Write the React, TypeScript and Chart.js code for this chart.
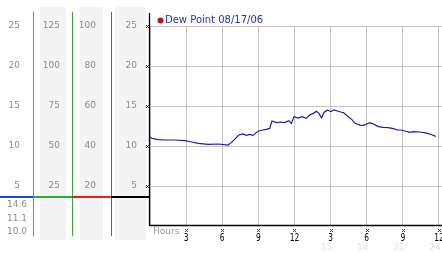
import React, { useEffect, useRef } from "react";
import { Chart, registerables } from "chart.js";

Chart.register(...registerables);

// Dew point readings: [hour of day, value]
const hours = [0, 0.14, 0.69, 1.25, 2.08, 2.91, 3.46, 4.01, 4.84, 5.67, 6.48, 6.75, 7.03, 7.37, 7.72, 8.0, 8.28, 8.55, 8.75, 9.03, 9.39, 9.66, 9.94, 10.13, 10.49, 10.86, 11.19, 11.52, 11.74, 11.96, 12.29, 12.62, 12.98, 13.26, 13.56, 13.83, 14.04, 14.24, 14.45, 14.73, 15.01, 15.28, 15.56, 15.84, 16.06, 16.39, 16.75, 17.03, 17.44, 17.72, 18.0, 18.27, 18.6, 18.96, 19.38, 19.79, 20.21, 20.54, 20.82, 21.18, 21.54, 21.87, 22.43, 22.98, 23.4, 23.73];
const dewPoint = [11.17, 10.96, 10.8, 10.75, 10.75, 10.67, 10.5, 10.33, 10.2, 10.25, 10.12, 10.42, 10.83, 11.37, 11.5, 11.33, 11.46, 11.33, 11.58, 11.87, 12.0, 12.08, 12.2, 13.12, 12.92, 13.0, 12.92, 13.17, 12.83, 13.67, 13.5, 13.67, 13.46, 13.87, 14.08, 14.35, 14.04, 13.5, 14.2, 14.5, 14.29, 14.5, 14.37, 14.25, 14.17, 13.75, 13.33, 12.83, 12.62, 12.58, 12.75, 12.92, 12.71, 12.42, 12.33, 12.29, 12.17, 12.0, 12.0, 11.87, 11.71, 11.8, 11.75, 11.6, 11.4, 11.2];

const seriesLabel = "Dew Point 08/17/06";
const hourTicks = [0, 3, 6, 9, 12, 15, 18, 21, 24];
const hourLabels = ["3", "6", "9", "12", "3", "6", "9", "12"];
const hour24Labels = ["15", "18", "21", "24"];
const yTicks = [5, 10, 15, 20, 25];
const col1Labels = ["5", "10", "15", "20", "25"];
const col2Labels = ["25", "50", "75", "100", "125"];
const col3Labels = ["20", "40", "60", "80", "100"];
const col4Labels = ["5", "10", "15", "20", "25"];
const statLabels = ["14.6", "11.1", "10.0"];

function xMark(ctx: CanvasRenderingContext2D, cx: number, cy: number, color: string) {
  ctx.fillStyle = color;
  const px = [[-1, -1], [1, -1], [0, 0], [-1, 1], [1, 1]];
  for (const [dx, dy] of px) ctx.fillRect(Math.round(cx) + dx, Math.round(cy) + dy, 1, 1);
}

export default function App() {
  const ref = useRef<HTMLCanvasElement>(null);

  useEffect(() => {
    document.body.style.margin = "0";
    const canvas = ref.current!;
    const decor = {
      id: "decor",
      beforeDraw(chart: any) {
        const ctx = chart.ctx as CanvasRenderingContext2D;
        const ys = chart.scales.y;
        ctx.save();
        ctx.fillStyle = "#ffffff";
        ctx.fillRect(0, 0, chart.width, chart.height);
        // gray panels
        ctx.fillStyle = "#f4f4f4";
        ctx.fillRect(40, 7, 26, 233);
        ctx.fillRect(80, 7, 23, 233);
        ctx.fillRect(115, 7, 31, 233);
        // vertical coloured lines
        const vl: [number, string][] = [[33.5, "#2f9fd8"], [72.5, "#33aa33"], [111.5, "#cc3030"]];
        ctx.lineWidth = 1;
        for (const [x, c] of vl) {
          ctx.strokeStyle = c;
          ctx.beginPath();
          ctx.moveTo(x, 12);
          ctx.lineTo(x, 236);
          ctx.stroke();
        }
        // column labels
        ctx.font = "9px 'DejaVu Sans'";
        ctx.fillStyle = "#8c8c8c";
        ctx.textBaseline = "middle";
        ctx.textAlign = "right";
        yTicks.forEach((v, i) => {
          const y = ys.getPixelForValue(v);
          ctx.fillText(col1Labels[i], 20, y);
          ctx.fillText(col2Labels[i], 60, y);
          ctx.fillText(col3Labels[i], 96, y);
          ctx.fillText(col4Labels[i], 137, y);
        });
        // horizontal coloured line
        const hy = 197;
        const segs: [number, number, string][] = [[0, 33, "#1446e6"], [33, 72, "#22b422"], [72, 111, "#e82020"], [111, 150, "#000000"]];
        ctx.lineWidth = 2;
        for (const [a, b, c] of segs) {
          ctx.strokeStyle = c;
          ctx.beginPath();
          ctx.moveTo(a, hy);
          ctx.lineTo(b, hy);
          ctx.stroke();
        }
        // stats
        ctx.textAlign = "left";
        ctx.fillStyle = "#8c8c8c";
        const sy = [205, 218.5, 232];
        statLabels.forEach((s, i) => ctx.fillText(s, 7, sy[i]));
        ctx.restore();
      },
      afterDraw(chart: any) {
        const ctx = chart.ctx as CanvasRenderingContext2D;
        const xs = chart.scales.x;
        const ys = chart.scales.y;
        const area = chart.chartArea;
        ctx.save();
        // axes
        ctx.strokeStyle = "#000";
        ctx.lineWidth = 1.3;
        ctx.beginPath();
        ctx.moveTo(149.5, 13);
        ctx.lineTo(149.5, area.bottom - 0.5);
        ctx.lineTo(442, area.bottom - 0.5);
        ctx.stroke();
        // y tick marks
        yTicks.forEach((v) => xMark(ctx, 147, ys.getPixelForValue(v), "#444"));
        // x labels
        ctx.font = "9px 'DejaVu Sans'";
        ctx.textBaseline = "middle";
        ctx.fillStyle = "#999";
        ctx.textAlign = "left";
        ctx.fillText("Hours", 153, 232);
        hourLabels.forEach((lab, i) => {
          const x = xs.getPixelForValue(hourTicks[i + 1]);
          xMark(ctx, x, 230, "#444");
          ctx.save();
          ctx.translate(x, 238);
          ctx.scale(0.75, 1);
          ctx.fillStyle = "#000";
          ctx.textAlign = "center";
          ctx.font = "10px 'DejaVu Sans'";
          ctx.fillText(lab, 0, 0);
          ctx.restore();
        });
        ctx.fillStyle = "#e2e2e2";
        ctx.textAlign = "center";
        hour24Labels.forEach((lab, i) => {
          const x = xs.getPixelForValue(hourTicks[i + 5]);
          ctx.fillText(lab, x - 4, 248);
        });
        // legend
        ctx.fillStyle = "#b01818";
        ctx.beginPath();
        ctx.arc(160.5, 20.5, 3, 0, Math.PI * 2);
        ctx.fill();
        ctx.fillStyle = "#1f2fc8";
        ctx.font = "10px 'DejaVu Sans'";
        ctx.textAlign = "left";
        ctx.fillText(seriesLabel, 165, 20.5);
        ctx.restore();
      },
    };

    const chart = new Chart(canvas, {
      type: "line",
      data: {
        datasets: [
          {
            label: seriesLabel,
            data: hours.map((h, i) => ({ x: h, y: dewPoint[i] })),
            borderColor: "#1c1ca0",
            borderWidth: 1.2,
            pointRadius: 0,
            tension: 0,
            fill: false,
          },
        ],
      },
      options: {
        animation: false,
        responsive: false,
        devicePixelRatio: 1,
        layout: { padding: { left: 150, right: 0, top: 26, bottom: 27 } },
        plugins: { legend: { display: false }, tooltip: { enabled: false } },
        scales: {
          x: {
            type: "linear",
            min: 0,
            max: 24.25,
            afterFit: (s: any) => { s.height = 0; },
            afterBuildTicks: (s: any) => { s.ticks = hourTicks.map((v) => ({ value: v })); },
            ticks: { display: false },
            grid: { color: "#c4c4c4", lineWidth: 1, drawTicks: false },
            border: { display: false },
          },
          y: {
            min: 0,
            max: 25,
            afterFit: (s: any) => { s.width = 0; },
            afterBuildTicks: (s: any) => { s.ticks = yTicks.map((v) => ({ value: v })); },
            ticks: { display: false },
            grid: { color: "#c4c4c4", lineWidth: 1, drawTicks: false },
            border: { display: false },
          },
        },
      },
      plugins: [decor],
    });
    return () => chart.destroy();
  }, []);

  return (
    <div style={{ position: "fixed", left: 0, top: 0, width: 442, height: 253 }}>
      <canvas ref={ref} width={442} height={253} style={{ width: 442, height: 253, display: "block" }} />
    </div>
  );
}
